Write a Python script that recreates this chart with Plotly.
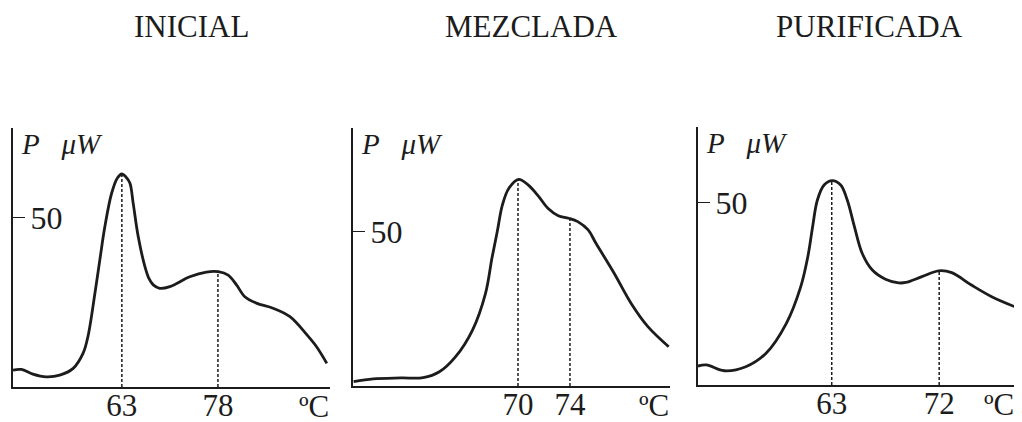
import numpy as np
import plotly.graph_objects as go

titles = ["INICIAL", "MEZCLADA", "PURIFICADA"]

# Panel 1 (INICIAL): temperature (ºC) and power (μW)
t1 = [46.0, 47.3, 49.1, 51.2, 53.3, 55.4, 56.95, 57.7, 58.8, 59.56, 60.34, 61.4, 62.3,
      63.0, 63.6, 64.25, 64.77, 65.55, 66.6, 67.2, 67.9, 68.9, 70.5, 73.6, 76.2, 78.05,
      79.6, 80.9, 82.2, 84.0, 86.6, 89.25, 91.9, 93.4, 95.0]
p1 = [5.0, 5.2, 3.8, 3.0, 3.5, 5.5, 10.0, 14.9, 27.8, 37.6, 47.4, 57.3, 61.8,
      63.0, 62.2, 60.3, 54.3, 44.5, 35.6, 32.2, 30.2, 29.2, 29.7, 32.6, 34.0, 34.1,
      33.1, 30.2, 26.7, 24.8, 23.3, 20.8, 15.4, 11.9, 7.0]
# Panel 2 (MEZCLADA)
t2 = [57.35, 58.85, 61.0, 62.7, 63.95, 65.2, 66.5, 67.5, 68.0, 68.4, 68.8, 69.3, 70.05,
      70.8, 71.6, 72.3, 73.1, 73.9, 74.6, 75.4, 76.0, 77.4, 78.7, 80.0, 81.6]
p2 = [1.4, 2.3, 2.6, 2.7, 4.6, 9.5, 18.1, 30.0, 41.5, 49.9, 58.6, 64.0, 66.9,
      65.0, 61.3, 57.5, 55.1, 54.3, 53.2, 50.5, 46.2, 36.5, 26.8, 19.2, 12.7]
# Panel 3 (PURIFICADA)
t3 = [51.8, 52.5, 54.0, 55.8, 57.5, 59.2, 60.4, 61.0, 61.4, 61.8, 62.36, 63.05, 63.75,
      64.3, 64.9, 65.55, 66.4, 67.5, 68.6, 69.2, 70.55, 71.95, 73.05, 74.7, 76.4, 78.3]
p3 = [5.2, 5.5, 3.9, 5.0, 8.7, 16.9, 26.9, 35.2, 43.4, 50.7, 54.8, 56.0, 54.8,
      50.7, 43.4, 36.1, 31.5, 29.0, 28.0, 28.1, 29.7, 31.3, 30.8, 27.4, 24.2, 21.5]

peaks = [[63, 78], [70, 74], [63, 72]]
ytick = [50]
unit_x = "ºC"
unit_y = "<i>P</i>&nbsp;&nbsp; <i>μW</i>"

xranges = [[46.0, 95.5], [57.3, 81.7], [51.8, 78.35]]
yranges = [[0, 76.6], [0, 83.5], [0, 70.8]]

# page has an 8px body margin: lay out in window pixels, convert to paper
W, H, OFF = 1014, 414, 8
def px(x):
    return (x - OFF) / W
def py(y):
    return 1 - (y - OFF) / H

xdoms = [[px(13), px(330)], [px(353), px(670)], [px(698), px(1015)]]
ydoms = [[py(387), py(128)], [py(386), py(128)], [py(385), py(126.7)]]
title_x = [px(191.5), px(531), px(869)]

FONT = "Liberation Serif"
INK = "#1c1c1c"

fig = go.Figure()
data = [(t1, p1), (t2, p2), (t3, p3)]
for i, (t, p) in enumerate(data):
    xa = "x" if i == 0 else f"x{i+1}"
    ya = "y" if i == 0 else f"y{i+1}"
    fig.add_trace(go.Scatter(x=t, y=p, mode="lines", xaxis=xa, yaxis=ya,
                             line=dict(color=INK, width=2.8, shape="spline", smoothing=1.0),
                             showlegend=False, hoverinfo="skip"))
    for pk in peaks[i]:
        yv = float(np.interp(pk, t, p))
        fig.add_trace(go.Scatter(x=[pk, pk], y=[0, yv], mode="lines", xaxis=xa, yaxis=ya,
                                 line=dict(color=INK, width=1.5, dash="3px,2px"),
                                 showlegend=False, hoverinfo="skip"))
    sfx = "" if i == 0 else str(i + 1)
    fig.update_layout(**{
        f"xaxis{sfx}": dict(domain=xdoms[i], range=xranges[i], anchor=ya, automargin=False,
                            showline=True, linecolor=INK, linewidth=1.6,
                            showgrid=False, zeroline=False, tickvals=peaks[i],
                            ticks="", ticklen=0, ticklabelstandoff=-10,
                            tickfont=dict(family=FONT, size=31, color=INK)),
        f"yaxis{sfx}": dict(domain=ydoms[i], range=yranges[i], anchor=xa, automargin=False,
                            showline=True, linecolor=INK, linewidth=1.6,
                            showgrid=False, zeroline=False, tickvals=ytick,
                            ticks="inside", ticklen=12, tickcolor=INK, tickwidth=1.3,
                            ticklabelposition="inside", ticklabelstandoff=9,
                            tickfont=dict(family=FONT, size=32, color=INK)),
    })
    fig.add_annotation(text=titles[i], xref="paper", yref="paper", x=title_x[i], y=1.0,
                       showarrow=False, xanchor="center", yanchor="top", borderpad=0,
                       font=dict(family=FONT, size=31, color=INK))
    fig.add_annotation(text=unit_y, xref=f"{xa} domain", yref=f"{ya} domain", x=0.018, y=1.0,
                       yshift=2, showarrow=False, xanchor="left", yanchor="top",
                       font=dict(family=FONT, size=29, color=INK))
    fig.add_annotation(text=unit_x, xref=f"{xa} domain", yref=f"{ya} domain", x=1.0, y=0,
                       xshift=0, yshift=-1, showarrow=False, xanchor="right", yanchor="top",
                       borderpad=0, font=dict(family=FONT, size=31, color=INK))

fig.update_layout(width=W, height=H, margin=dict(l=0, r=0, t=0, b=0),
                  paper_bgcolor="white", plot_bgcolor="white")
fig.write_html("out.html")
